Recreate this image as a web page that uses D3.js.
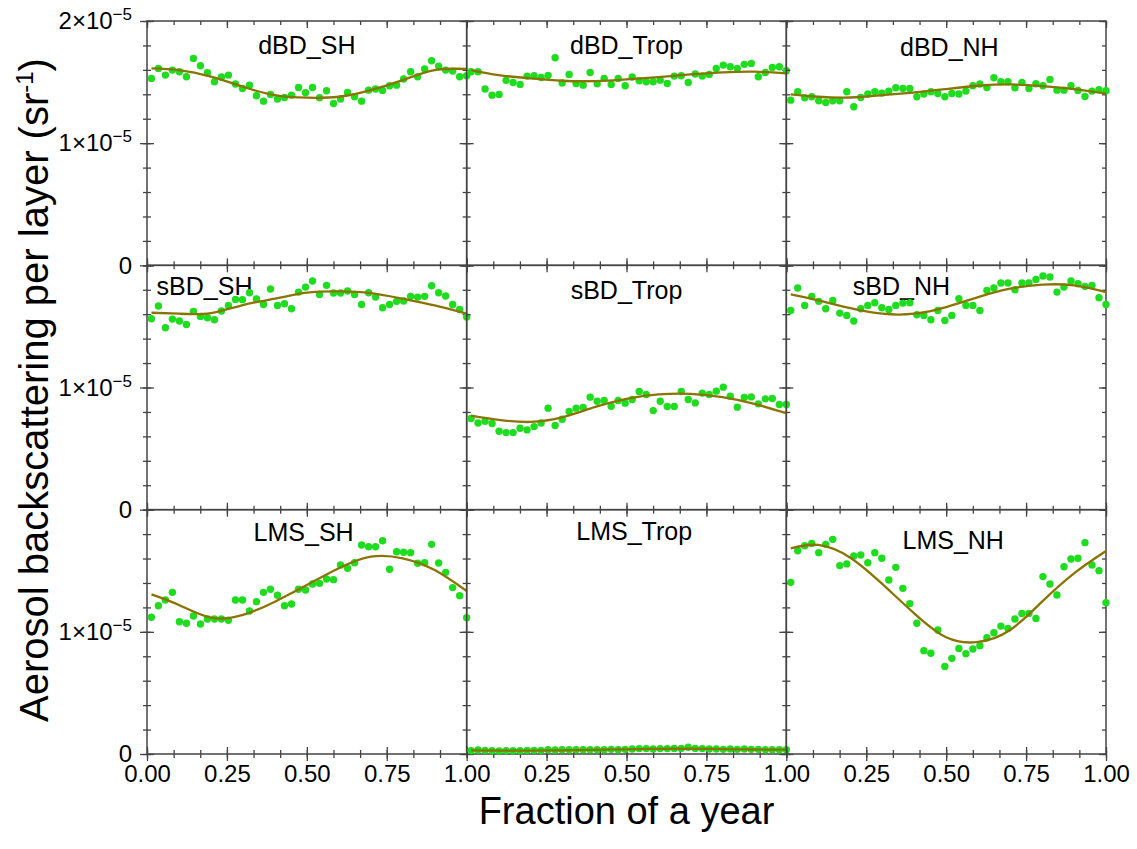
<!DOCTYPE html>
<html><head><meta charset="utf-8">
<script src="https://cdn.jsdelivr.net/npm/d3@7"></script>
<style>body{margin:0;background:#fff} text{font-family:"Liberation Sans",Arial,sans-serif;fill:#000}</style>
</head><body><svg id="c" width="1137" height="849"></svg>
<script>
// 8-day composites, day of year
const dayOfYear = [5,13,21,29,37,45,53,61,69,77,85,93,101,109,117,125,133,141,149,157,165,173,181,189,197,205,213,221,229,237,245,253,261,269,277,285,293,301,309,317,325,333,341,349,357,365];
const panelNames = ["dBD_SH","dBD_Trop","dBD_NH","sBD_SH","sBD_Trop","sBD_NH","LMS_SH","LMS_Trop","LMS_NH"];
// values in units of 1e-5 sr^-1
const dBD_SH = [1.530,1.612,1.557,1.598,1.585,1.544,1.694,1.634,1.577,1.503,1.541,1.557,1.484,1.448,1.475,1.388,1.344,1.399,1.361,1.374,1.393,1.456,1.413,1.456,1.372,1.429,1.325,1.361,1.415,1.380,1.344,1.434,1.443,1.432,1.470,1.475,1.525,1.585,1.544,1.607,1.675,1.631,1.598,1.590,1.544,1.552];
const dBD_Trop = [1.585,1.585,1.443,1.393,1.399,1.514,1.497,1.481,1.549,1.552,1.538,1.555,1.699,1.492,1.563,1.489,1.475,1.579,1.486,1.530,1.481,1.530,1.470,1.541,1.511,1.503,1.503,1.516,1.489,1.549,1.552,1.497,1.566,1.549,1.563,1.612,1.639,1.626,1.612,1.645,1.653,1.544,1.579,1.620,1.626,1.593];
const dBD_NH = [1.352,1.421,1.372,1.380,1.347,1.333,1.347,1.347,1.421,1.298,1.374,1.402,1.421,1.410,1.426,1.454,1.448,1.448,1.380,1.402,1.421,1.407,1.380,1.407,1.402,1.426,1.470,1.484,1.456,1.535,1.503,1.503,1.454,1.497,1.448,1.486,1.470,1.522,1.434,1.434,1.470,1.432,1.383,1.426,1.437,1.429];
const sBD_SH = [1.563,1.667,1.489,1.560,1.544,1.516,1.623,1.582,1.571,1.555,1.626,1.672,1.721,1.719,1.776,1.724,1.680,1.806,1.672,1.686,1.645,1.781,1.822,1.872,1.762,1.836,1.773,1.773,1.790,1.762,1.680,1.776,1.740,1.653,1.680,1.705,1.708,1.746,1.740,1.746,1.833,1.776,1.749,1.680,1.639,1.577];
const sBD_Trop = [0.746,0.710,0.724,0.705,0.642,0.631,0.631,0.667,0.653,0.680,0.710,0.831,0.689,0.740,0.803,0.831,0.836,0.921,0.888,0.893,0.847,0.893,0.872,0.902,0.967,0.943,0.811,0.888,0.844,0.844,0.967,0.902,0.874,0.954,0.943,0.970,1.003,0.929,0.839,0.918,0.923,0.866,0.907,0.910,0.861,0.861];
const sBD_NH = [1.631,1.814,1.672,1.746,1.705,1.645,1.713,1.609,1.590,1.544,1.645,1.672,1.694,1.653,1.639,1.672,1.691,1.694,1.596,1.590,1.555,1.631,1.549,1.590,1.727,1.672,1.672,1.631,1.795,1.814,1.855,1.855,1.800,1.855,1.855,1.885,1.913,1.904,1.781,1.822,1.872,1.850,1.828,1.836,1.735,1.680];
const LMS_SH = [1.119,1.214,1.261,1.323,1.083,1.070,1.130,1.064,1.105,1.105,1.105,1.094,1.261,1.261,1.171,1.247,1.323,1.348,1.299,1.214,1.228,1.348,1.342,1.392,1.397,1.432,1.427,1.547,1.520,1.566,1.711,1.697,1.697,1.746,1.512,1.656,1.651,1.648,1.561,1.566,1.716,1.563,1.487,1.362,1.296,1.116];
const LMS_Trop = [0.027,0.033,0.030,0.027,0.025,0.027,0.027,0.027,0.030,0.030,0.030,0.035,0.033,0.035,0.035,0.035,0.035,0.035,0.035,0.035,0.038,0.035,0.038,0.041,0.044,0.044,0.041,0.044,0.044,0.046,0.046,0.055,0.046,0.044,0.041,0.041,0.038,0.041,0.038,0.041,0.038,0.038,0.035,0.035,0.035,0.035];
const LMS_NH = [1.405,1.664,1.705,1.724,1.648,1.716,1.757,1.542,1.556,1.621,1.629,1.566,1.648,1.602,1.424,1.528,1.356,1.231,1.070,0.846,0.825,1.015,0.717,0.783,0.864,0.821,0.859,0.886,0.951,0.993,1.047,1.028,1.105,1.151,1.151,1.110,1.452,1.392,1.302,1.533,1.596,1.602,1.730,1.547,1.501,1.239];
// fitted seasonal curves, sampled
const fitX = [0.014,0.1,0.2,0.3,0.4,0.5,0.6,0.7,0.8,0.9,1.0];
const fit_dBD_SH = [1.612,1.598,1.544,1.462,1.393,1.372,1.380,1.434,1.516,1.598,1.607];
const fit_dBD_Trop = [1.598,1.557,1.530,1.511,1.508,1.522,1.541,1.563,1.579,1.585,1.571];
const fit_dBD_NH = [1.399,1.380,1.374,1.393,1.415,1.443,1.470,1.481,1.467,1.443,1.407];
const fit_sBD_SH = [1.612,1.604,1.609,1.675,1.727,1.776,1.787,1.773,1.727,1.672,1.604];
const fit_sBD_Trop = [0.770,0.735,0.718,0.757,0.839,0.907,0.943,0.948,0.921,0.866,0.790];
const fit_sBD_NH = [1.762,1.713,1.650,1.604,1.604,1.658,1.740,1.809,1.842,1.836,1.781];
const fit_LMS_SH = [1.307,1.220,1.116,1.138,1.247,1.383,1.520,1.615,1.602,1.506,1.334];
const fit_LMS_Trop = [0.030,0.028,0.028,0.030,0.034,0.038,0.042,0.043,0.040,0.037,0.035];
const fit_LMS_NH = [1.684,1.711,1.607,1.392,1.151,0.955,0.917,1.015,1.247,1.479,1.662];

const xMajor = [0,0.25,0.5,0.75,1];
const yMajor = [0,1,2];

const series = [dBD_SH,dBD_Trop,dBD_NH,sBD_SH,sBD_Trop,sBD_NH,LMS_SH,LMS_Trop,LMS_NH];
const fits = [fit_dBD_SH,fit_dBD_Trop,fit_dBD_NH,fit_sBD_SH,fit_sBD_Trop,fit_sBD_NH,fit_LMS_SH,fit_LMS_Trop,fit_LMS_NH];

// layout (positions of panel titles)
const titleLayout = [[0.5,33],[0.5,33],[0.51,35],[0.18,30],[0.5,34],[0.36,30],[0.49,31],[0.524,30],[0.522,39]];

const svg = d3.select("#c");
const L=147,R=1106,T=21,B=754;
const cw=(R-L)/3, rh=(B-T)/3;
const x = d3.scaleLinear().domain([0,1]).range([0,cw]);
const y = d3.scaleLinear().domain([0,2]).range([rh,0]);
const xMinor = d3.range(0,13).map(i=>i/12);
const yMinor = d3.range(0,11).map(i=>i*0.2);
const axisColor = "#444";

function styleAxis(sel){
  sel.select(".domain").remove();
  sel.selectAll("line").attr("stroke",axisColor).attr("stroke-width",1.3);
}
function supLabel(sel){
  sel.each(function(d){
    const t=d3.select(this); t.text(null);
    if(d===0){ t.text("0"); return; }
    t.append("tspan").text(d+"×10");
    t.append("tspan").attr("dy",-9).style("font-size","17px").text("−5");
  });
}

const dataLayer = [];
panelNames.forEach((name,i)=>{
  const r=Math.floor(i/3), c=i%3;
  const g = svg.append("g").attr("transform",`translate(${L+c*cw},${T+r*rh})`);
  [[d3.axisBottom,`translate(0,${rh})`,x,xMajor,xMinor],[d3.axisTop,`translate(0,0)`,x,xMajor,xMinor],
   [d3.axisLeft,`translate(0,0)`,y,yMajor,yMinor],[d3.axisRight,`translate(${cw},0)`,y,yMajor,yMinor]].forEach(([ax,tr,sc,maj,min])=>{
    g.append("g").attr("transform",tr).call(ax(sc).tickValues(min).tickSize(-4).tickFormat("")).call(styleAxis);
    g.append("g").attr("transform",tr).call(ax(sc).tickValues(maj).tickSize(-7).tickFormat("")).call(styleAxis);
  });
  if(r===2){
    g.append("g").attr("transform",`translate(0,${rh})`).call(d3.axisBottom(x).tickValues(xMinor).tickSize(4).tickFormat("")).call(styleAxis);
    const xl = c===0 ? xMajor : xMajor.slice(1);
    g.append("g").attr("transform",`translate(0,${rh})`).call(d3.axisBottom(x).tickValues(xl).tickSize(7).tickPadding(4).tickFormat(d3.format(".2f")))
      .call(styleAxis).call(s=>s.selectAll("text").style("font-size","24px").attr("fill","#000"));
  }
  if(c===0){
    g.append("g").call(d3.axisLeft(y).tickValues(yMinor).tickSize(4).tickFormat("")).call(styleAxis);
    const yl = r===0 ? yMajor : [0,1];
    g.append("g").call(d3.axisLeft(y).tickValues(yl).tickSize(7).tickPadding(8))
      .call(styleAxis).call(s=>s.selectAll("text").style("font-size","24px").attr("fill","#000").call(supLabel));
  }
  g.append("rect").attr("width",cw).attr("height",rh).attr("fill","none").attr("stroke",axisColor).attr("stroke-width",1.5);
  g.append("text").attr("x",x(titleLayout[i][0])).attr("y",titleLayout[i][1]).attr("text-anchor","middle")
    .style("font-size","25px").text(name);
  dataLayer.push(g);
});

const line = d3.line().x(d=>x(d[0])).y(d=>y(d[1])).curve(d3.curveNatural);
panelNames.forEach((name,i)=>{
  const g = dataLayer[i].append("g");
  g.selectAll("circle").data(series[i]).join("circle")
    .attr("cx",(d,k)=>x(dayOfYear[k]/365)).attr("cy",d=>y(d)).attr("r",3.7).attr("fill","#1edc1e");
  g.append("path").datum(fitX.map((fx,k)=>[fx,fits[i][k]])).attr("d",line)
    .attr("fill","none").attr("stroke","#8a7400").attr("stroke-width",2.3);
});

// axis titles
const yt = svg.append("text").attr("transform","translate(48,390) rotate(-90)").attr("text-anchor","middle").style("font-size","40px");
yt.append("tspan").text("Aerosol backscattering per layer (sr");
yt.append("tspan").attr("dy",-15).style("font-size","24px").text("-1");
yt.append("tspan").attr("dy",15).text(")");
svg.append("text").attr("x",(L+R)/2).attr("y",824).attr("text-anchor","middle").style("font-size","38px").text("Fraction of a year");
</script></body></html>
